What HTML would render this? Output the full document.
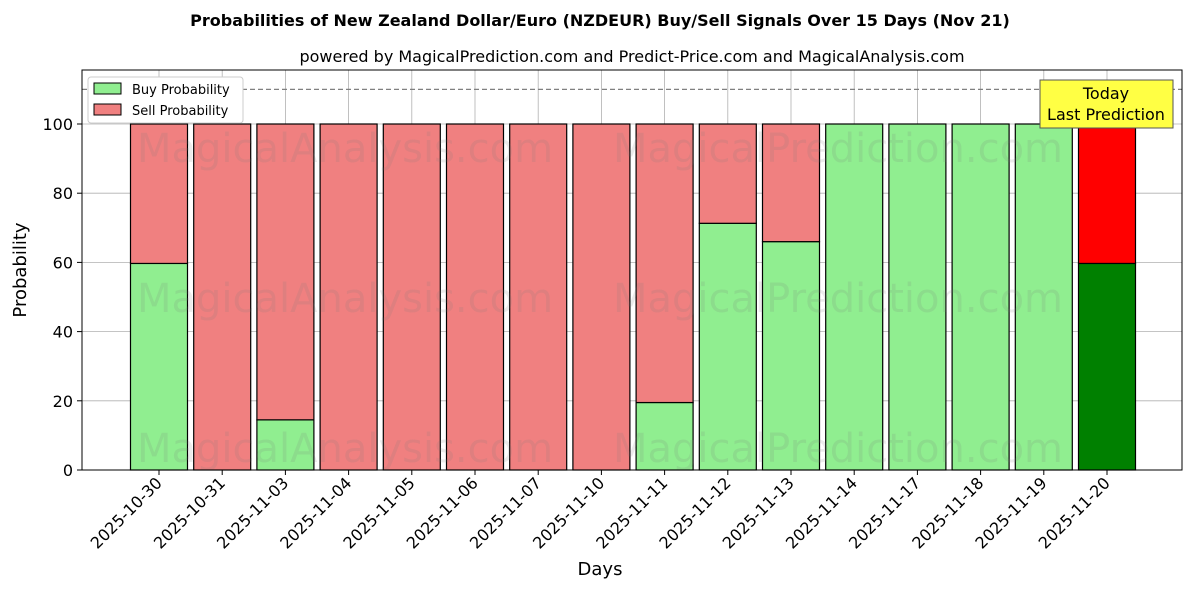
<!DOCTYPE html>
<html><head><meta charset="utf-8"><style>
body{margin:0;background:#fff;font-family:"DejaVu Sans","Liberation Sans",sans-serif;}
svg text{font-family:"DejaVu Sans","Liberation Sans",sans-serif;}
</style></head><body>
<svg id="c" width="1200" height="600" xmlns="http://www.w3.org/2000/svg">
<text x="600" y="26" text-anchor="middle" font-size="16" font-weight="bold">Probabilities of New Zealand Dollar/Euro (NZDEUR) Buy/Sell Signals Over 15 Days (Nov 21)</text>
<text x="632" y="62" text-anchor="middle" font-size="16">powered by MagicalPrediction.com and Predict-Price.com and MagicalAnalysis.com</text>
<g id="grid"></g><g id="bars"></g><g id="wm"></g><g id="axes"></g>
</svg>
<script>
const categories=["2025-10-30","2025-10-31","2025-11-03","2025-11-04","2025-11-05","2025-11-06","2025-11-07","2025-11-10","2025-11-11","2025-11-12","2025-11-13","2025-11-14","2025-11-17","2025-11-18","2025-11-19","2025-11-20"];
const buyValues=[59.7,0,14.5,0,0,0,0,0,19.5,71.3,66,100,100,100,100,59.7];
const sellValues=[40.3,100,85.5,100,100,100,100,100,80.5,28.7,34,0,0,0,0,40.3];
const yTicks=[0,20,40,60,80,100];
const NS="http://www.w3.org/2000/svg";
const L=82,R=1182,T=70,B=470;
const xs=i=>159+i*63.2;
const ys=v=>470-v*3.46;
const bw=57;
function mk(t,a,p){const e=document.createElementNS(NS,t);for(const k in a)e.setAttribute(k,a[k]);p.appendChild(e);return e;}
const grid=document.getElementById('grid'),bars=document.getElementById('bars'),axes=document.getElementById('axes'),wm=document.getElementById('wm');
yTicks.forEach(v=>{const g=mk('line',{x1:L,x2:R,y1:ys(v),y2:ys(v),stroke:'#b0b0b0','stroke-width':0.8},grid);


mk('line',{x1:L-5,x2:L,y1:ys(v),y2:ys(v),stroke:'#000'},axes);
const t=mk('text',{x:L-9,y:ys(v)+6,'text-anchor':'end','font-size':16},axes);t.textContent=v;

});
categories.forEach((c,i)=>{const x=xs(i);
const g=mk('line',{x1:x,x2:x,y1:T,y2:B,stroke:'#b0b0b0','stroke-width':0.8},grid);


const last=i===categories.length-1;
const b=mk('rect',{x:x-bw/2,y:ys(buyValues[i]),width:bw,height:ys(0)-ys(buyValues[i]),fill:last?'#008000':'#90ee90',stroke:'#000','stroke-width':1.2},bars);


const s=mk('rect',{x:x-bw/2,y:ys(buyValues[i]+sellValues[i]),width:bw,height:ys(buyValues[i])-ys(buyValues[i]+sellValues[i]),fill:last?'#ff0000':'#f08080',stroke:'#000','stroke-width':1.2},bars);


mk('line',{x1:x,x2:x,y1:B,y2:B+5,stroke:'#000'},axes);
const t=mk('text',{x:x+4,y:B+14,'text-anchor':'end','font-size':16,transform:`rotate(-45 ${x+4} ${B+14})`},axes);t.textContent=c;

});
[[345,148],[838,148],[345,298],[838,298],[345,448],[838,448]].forEach((p,i)=>{const t=mk('text',{x:p[0],y:p[1]+14,'text-anchor':'middle','font-size':40,fill:'rgba(120,120,120,0.15)'},wm);t.textContent=i%2?'MagicalPrediction.com':'MagicalAnalysis.com';

});
const d=mk('line',{x1:L,x2:R,y1:ys(110),y2:ys(110),stroke:'#808080','stroke-dasharray':'5,3','stroke-width':1.2},axes);


const fr=mk('rect',{x:L,y:T,width:R-L,height:B-T,fill:'none',stroke:'#000','stroke-width':1},axes);


</script>
<svg style="position:absolute;left:0;top:0" width="1200" height="600" xmlns="http://www.w3.org/2000/svg">
<g>
<rect x="88" y="77" width="155" height="46" fill="#fff" stroke="#ccc" rx="3"/>
<rect x="94" y="83" width="27" height="11" fill="#90ee90" stroke="#000"/>
<text x="132" y="94" font-size="13">Buy Probability</text>
<rect x="94" y="104" width="27" height="11" fill="#f08080" stroke="#000"/>
<text x="132" y="115" font-size="13">Sell Probability</text>
</g>
<g>
<rect x="1040" y="80" width="133" height="48" fill="#ffff44" stroke="#555"/>
<text x="1106" y="99" text-anchor="middle" font-size="16">Today</text>
<text x="1106" y="120" text-anchor="middle" font-size="16">Last Prediction</text>
</g>
<text x="600" y="575" text-anchor="middle" font-size="18">Days</text>
<text x="26" y="270" text-anchor="middle" font-size="18" transform="rotate(-90 26 270)">Probability</text>
</svg>
</body></html>
